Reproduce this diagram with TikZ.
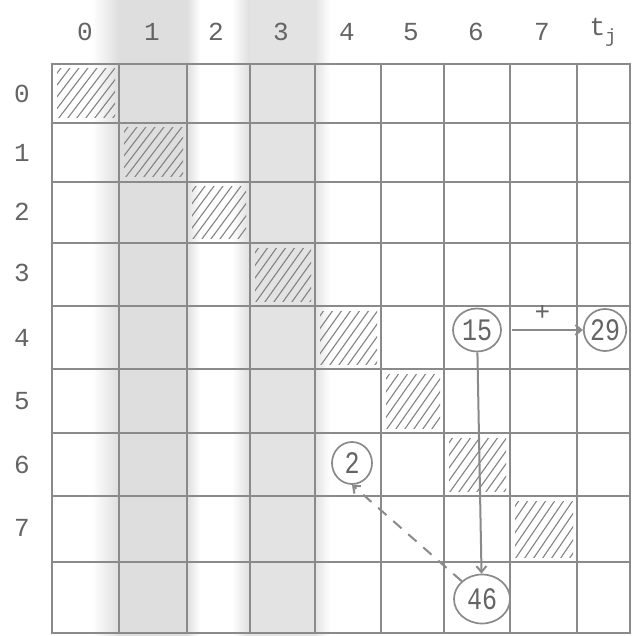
\documentclass[tikz,border=0pt]{standalone}
\usepackage{fontspec}
\setmonofont{Liberation Mono}
\usetikzlibrary{arrows.meta,shapes.geometric}
\definecolor{pencil}{RGB}{138,138,138}
\definecolor{typegray}{RGB}{100,100,100}
\definecolor{scanshade}{RGB}{222,222,222}
\tikzset{
  gridline/.style={
    draw=pencil,
    line width=2.6pt,
    line cap=round
  },
  hatchline/.style={
    draw=pencil!95!black,
    line width=1.1pt,
    line cap=round
  },
  headlabel/.style={
    inner sep=0pt,
    text=typegray,
    font=\ttfamily\fontsize{26}{28}\selectfont
  },
  markcircle/.style={
    ellipse,
    draw=pencil,
    line width=1.7pt,
    inner sep=0pt,
    fill=white,
    text=typegray,
    font=\ttfamily\fontsize{25}{27}\selectfont
  },
  markarrow/.style={
    -{Straight Barb[length=6pt,width=10pt]},
    draw=pencil,
    line width=2pt
  }
}
\newcommand{\tallnum}[1]{\scalebox{1}[1.25]{#1}}

\begin{document}
\begin{tikzpicture}[x=1pt,y=-1pt]
\useasboundingbox (0,0) rectangle (633,636);
\fill[white] (0,0) rectangle (633,636);
% scan shading of the columns
\shade[left color=white, right color=scanshade] (92,0) rectangle (119,636);
\fill[scanshade] (119,0) rectangle (187,636);
\shade[left color=scanshade, right color=white] (187,0) rectangle (200,636);
\shade[left color=white, right color=scanshade] (232,0) rectangle (250,636);
\fill[scanshade!85] (250,0) rectangle (315,636);
\shade[left color=scanshade!85, right color=white] (315,0) rectangle (330,636);

% hatched diagonal cells
\foreach \i/\xl/\xr/\yt/\yb in {0/52/119/64/123, 1/119/187/123/182, 2/187/250/182/243,
  3/250/315/243/306, 4/315/381/306/369, 5/381/444/369/433, 6/444/510/433/496, 7/510/577/496/562} {
  \begin{scope}
    \clip (\xl+5,\yt+5) rectangle (\xr-4,\yb-5);
    \foreach \o in {-60,-51,...,70}
      \draw[hatchline] (\xl+\o,\yb) -- (\xl+\o+45,\yt);
  \end{scope}
}

% grid
\foreach \x in {52,119,187,250,315,381,444,510,577,630}
  \draw[gridline] (\x,64) -- (\x,633);
\foreach \y in {64,123,182,243,306,369,433,496,562,633}
  \draw[gridline] (52,\y) -- (630,\y);

% labels
\foreach \i/\x in {0/85,1/152,2/216,3/281,4/347,5/411,6/476,7/542}
  \node[headlabel] (col\i) at (\x,32) {\i};
\node[headlabel] (coltj) at (603,32) {t\raisebox{-0.5ex}{\fontsize{19}{21}\selectfont j}};
\foreach \i/\y in {0/94,1/153,2/212,3/273,4/338,5/401,6/465,7/528}
  \node[headlabel] (row\i) at (22,\y) {\i};

% marked entries
\node[markcircle, minimum width=48pt, minimum height=43pt] (n15) at (477,330) {\tallnum{15}};
\node[markcircle, minimum width=42pt, minimum height=42pt] (n29) at (605,330) {\tallnum{29}};
\node[markcircle, minimum width=40pt, minimum height=42pt] (n2) at (352,463) {\tallnum{2}};
\node[markcircle, minimum width=56pt, minimum height=49pt] (n46) at (482,599) {\tallnum{46}};

\draw[markarrow, shorten <=10pt] (n15) -- node[headlabel, above=9pt] (plus) {+} (n29);
\draw[markarrow] (n15) -- (n46);
\draw[markarrow, dash pattern=on 11pt off 9pt] (n46.north west) -- (n2.south);
\end{tikzpicture}
\end{document}
